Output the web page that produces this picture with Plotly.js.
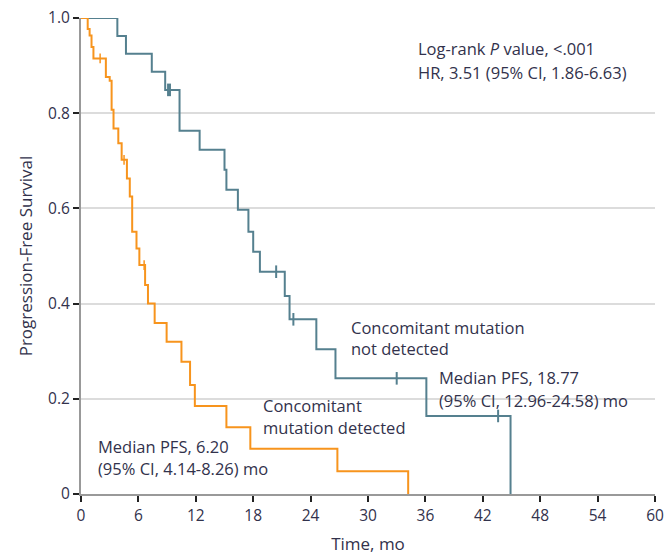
<!DOCTYPE html>
<html>
<head>
<meta charset="utf-8">
<script src="https://cdn.plot.ly/plotly-3.0.1.min.js"></script>
<style>html,body{margin:0;padding:0;background:#fff;}#chart{width:665px;height:558px;}</style>
</head>
<body>
<div id="chart"></div>
<script>
// Concomitant mutation not detected (blue)
const notDetTime = [0, 3.8, 4.7, 7.4, 8.8, 10.3, 12.4, 15.0, 15.2, 16.4, 17.5, 18.0, 18.7, 21.3, 21.8, 24.6, 26.6, 36.1, 44.9];
const notDetSurv = [1, 0.962, 0.925, 0.887, 0.849, 0.763, 0.723, 0.681, 0.639, 0.597, 0.551, 0.509, 0.467, 0.416, 0.367, 0.304, 0.243, 0.164, 0];
const notDetCensTime = [9.1, 9.3, 20.4, 22.2, 33.0, 43.6];
const notDetCensSurv = [0.849, 0.849, 0.467, 0.367, 0.243, 0.164];

// Concomitant mutation detected (orange)
const detTime = [0, 0.7, 0.9, 1.1, 1.3, 2.6, 3.0, 3.2, 3.4, 3.9, 4.25, 4.8, 5.1, 5.35, 5.8, 6.1, 6.7, 7.0, 7.7, 8.95, 10.5, 11.4, 11.9, 15.2, 17.7, 26.8, 34.2];
const detSurv = [1, 0.977, 0.963, 0.939, 0.915, 0.876, 0.868, 0.807, 0.768, 0.737, 0.702, 0.663, 0.625, 0.551, 0.516, 0.481, 0.439, 0.40, 0.359, 0.32, 0.278, 0.229, 0.185, 0.140, 0.095, 0.048, 0];
const detCensTime = [2.0, 4.5, 6.6];
const detCensSurv = [0.915, 0.702, 0.481];

const xTicks = [0, 6, 12, 18, 24, 30, 36, 42, 48, 54, 60];
const yTicks = [0, 0.2, 0.4, 0.6, 0.8, 1.0];
const yTickLabels = ['0', '0.2', '0.4', '0.6', '0.8', '1.0'];

const blue = '#55808f';
const orange = '#f7941d';
const txt = '#32324c';
const fam = 'Open Sans, Noto Sans, sans-serif';

const traces = [
  {x: notDetTime, y: notDetSurv, mode: 'lines', line: {shape: 'hv', color: blue, width: 2}, hoverinfo: 'none'},
  {x: notDetCensTime, y: notDetCensSurv, mode: 'markers', marker: {symbol: 'line-ns-open', size: 9, color: blue, line: {color: blue, width: 2}}, hoverinfo: 'none'},
  {x: detTime, y: detSurv, mode: 'lines', line: {shape: 'hv', color: orange, width: 2}, hoverinfo: 'none'},
  {x: detCensTime, y: detCensSurv, mode: 'markers', marker: {symbol: 'line-ns-open', size: 7, color: orange, line: {color: orange, width: 1.5}}, hoverinfo: 'none'}
];

function ann(x, y, text) {
  return {x: x, y: y, xref: 'x', yref: 'y', text: text, showarrow: false, xanchor: 'left', yanchor: 'middle', align: 'left',
    font: {family: fam, size: 16.5, color: txt}};
}

const layout = {
  width: 665, height: 558,
  margin: {l: 81, r: 10, t: 18, b: 64},
  paper_bgcolor: '#fff', plot_bgcolor: '#fff',
  showlegend: false,
  xaxis: {
    range: [0, 60], tickvals: xTicks, ticktext: xTicks.map(String),
    ticks: 'outside', ticklen: 6, tickwidth: 2, tickcolor: '#222',
    showline: true, linecolor: '#999', linewidth: 2,
    showgrid: false, zeroline: false,
    tickfont: {family: fam, size: 15.5, color: txt},
    title: {text: 'Time, mo', font: {family: fam, size: 17, color: txt}, standoff: 14}
  },
  yaxis: {
    range: [0, 1.0], tickvals: yTicks, ticktext: yTickLabels,
    ticks: 'outside', ticklen: 6, tickwidth: 2, tickcolor: '#222',
    showline: true, linecolor: '#999', linewidth: 2,
    showgrid: true, gridcolor: '#dcdcdc', gridwidth: 2, zeroline: false,
    tickfont: {family: fam, size: 15.5, color: txt},
    title: {text: 'Progression-Free Survival', font: {family: fam, size: 17, color: txt}, standoff: 11}
  },
  annotations: [
    ann(35.0, 0.935, 'Log-rank <i>P</i> value, <.001'),
    ann(35.0, 0.885, 'HR, 3.51 (95% CI, 1.86-6.63)'),
    ann(28.0, 0.350, 'Concomitant mutation'),
    ann(28.0, 0.305, 'not detected'),
    ann(37.2, 0.245, 'Median PFS, 18.77'),
    ann(37.2, 0.196, '(95% CI, 12.96-24.58) mo'),
    ann(18.8, 0.186, 'Concomitant'),
    ann(18.8, 0.140, 'mutation detected'),
    ann(1.6, 0.100, 'Median PFS, 6.20'),
    ann(1.6, 0.053, '(95% CI, 4.14-8.26) mo')
  ]
};

Plotly.newPlot('chart', traces, layout, {displayModeBar: false, staticPlot: true});
</script>
</body>
</html>
